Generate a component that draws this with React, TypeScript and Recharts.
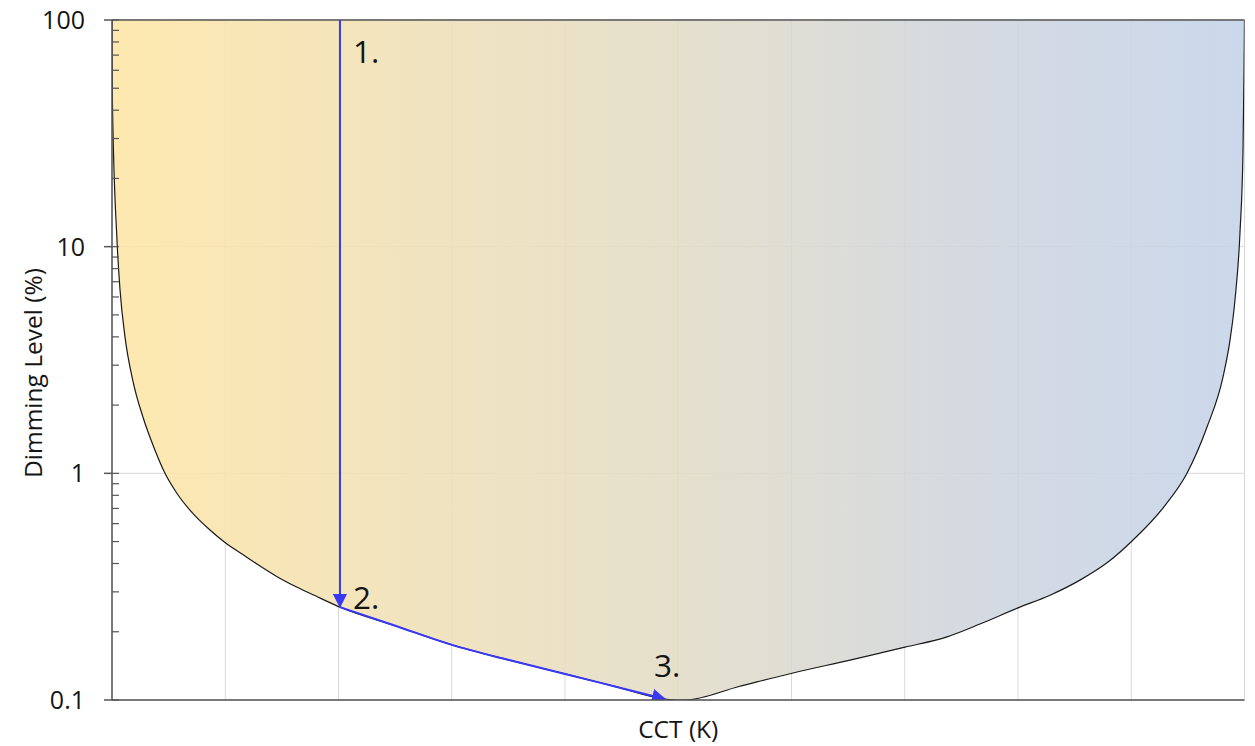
import React from 'react';
import {
  ComposedChart,
  Area,
  Line,
  XAxis,
  YAxis,
  CartesianGrid,
  ReferenceLine,
  ReferenceDot,
  Label,
} from 'recharts';

// ---- data ----
const cctPos = [
  0, 0.0035, 0.044, 0.071, 0.115, 0.183, 0.276, 0.365, 0.468, 0.571, 0.718, 0.865, 0.998, 1.159, 1.307,
  1.454, 1.631, 1.808, 2.013, 2.508, 3.002, 3.506, 4.009, 4.44, 4.883, 5.0, 5.06, 5.536, 6.013, 6.517,
  6.781, 7.002, 7.373, 7.664, 8.0, 8.283, 8.547, 8.795, 9.007, 9.28, 9.492, 9.669, 9.81, 9.872, 9.916,
  9.96, 9.987, 9.996, 10,
];
const dimLevel = [
  100, 44.4, 10.7, 6.44, 3.99, 2.58, 1.754, 1.32, 1.0, 0.819, 0.662, 0.562, 0.495, 0.437, 0.39,
  0.351, 0.315, 0.286, 0.257, 0.212, 0.175, 0.15, 0.13, 0.1148, 0.101, 0.1, 0.1, 0.1147, 0.1316, 0.15,
  0.161, 0.171, 0.19, 0.2163, 0.255, 0.29, 0.338, 0.406, 0.503, 0.703, 1.0, 1.6, 2.66, 3.87, 5.82,
  11.5, 26.7, 62, 100,
];

const step1X = [2.013, 2.013];
const step1Level = [100, 0.257];

const step2X = [2.013, 2.508, 3.002, 3.506, 4.009, 4.44, 4.883];
const step2Level = [0.257, 0.212, 0.175, 0.15, 0.13, 0.1148, 0.101];

const yTicks = [0.1, 1, 10, 100];
const yMinorTicks = [
  0.1, 0.2, 0.3, 0.4, 0.5, 0.6, 0.7, 0.8, 0.9,
  1, 2, 3, 4, 5, 6, 7, 8, 9,
  10, 20, 30, 40, 50, 60, 70, 80, 90, 100,
];
const xGridTicks = [0, 1, 2, 3, 4, 5, 6, 7, 8, 9, 10];

const annotationText = ['1.', '2.', '3.'];
const annotationX = [2.013, 2.013, 4.883];
const annotationLevel = [100, 0.257, 0.101];

const xLabel = 'CCT (K)';
const yLabel = 'Dimming Level (%)';

// ---- tables built from the arrays ----
const curveData = cctPos.map((x, i) => ({ x, level: dimLevel[i] }));
const step1Data = step1X.map((x, i) => ({ x, level: step1Level[i] }));
const step2Data = step2X.map((x, i) => ({ x, level: step2Level[i] }));

const FONT = '"Open Sans", "Noto Sans", sans-serif';
const TEXT = '#151515';
const AXIS = '#555555';
const BLUE = '#3838f5';

const annOffsets = [
  { dx: 13, dy: 43 },
  { dx: 13, dy: 2 },
  { dx: -11, dy: -22 },
];

const makeAnnotation = (i: number) => (props: any) => {
  const vb = props.viewBox || {};
  const x = (vb.x ?? 0) + (vb.width ?? 0) / 2 + annOffsets[i].dx;
  const y = (vb.y ?? 0) + (vb.height ?? 0) / 2 + annOffsets[i].dy;
  return (
    <text x={x} y={y} fill={TEXT} fontSize={31.5} fontFamily={FONT}>
      {annotationText[i]}
    </text>
  );
};

const renderYLabel = (props: any) => {
  const vb = props.viewBox || {};
  const cx = vb.x;
  const cy = vb.y + vb.height / 2 + 13;
  return (
    <text
      x={cx}
      y={cy}
      transform={`rotate(-90 ${cx} ${cy})`}
      textAnchor="middle"
      dominantBaseline="central"
      fill={TEXT}
      fontSize={24.5}
      fontFamily={FONT}
    >
      {yLabel}
    </text>
  );
};

const renderXLabel = (props: any) => {
  const vb = props.viewBox || {};
  return (
    <text
      x={vb.x + vb.width / 2}
      y={vb.y + 38}
      textAnchor="middle"
      fill={TEXT}
      fontSize={24.5}
      fontFamily={FONT}
    >
      {xLabel}
    </text>
  );
};

const emptyTick = () => <g />;

export default function App() {
  return (
    <div style={{ position: 'absolute', left: 0, top: 0, width: 1255, height: 746, background: '#fff' }}>
      <ComposedChart width={1255} height={746} margin={{ top: 20, right: 10.5, bottom: 0, left: 32 }}>
        <defs>
          <linearGradient id="cctGradient" x1="0" y1="0" x2="1" y2="0">
            <stop offset="0%" stopColor="#FDE5A4" stopOpacity={0.88} />
            <stop offset="25%" stopColor="#F0E0B5" stopOpacity={0.88} />
            <stop offset="50%" stopColor="#E2DCC6" stopOpacity={0.88} />
            <stop offset="75%" stopColor="#D0D5DD" stopOpacity={0.88} />
            <stop offset="100%" stopColor="#C4D3E9" stopOpacity={0.88} />
          </linearGradient>
          <marker
            id="arrowHead"
            viewBox="0 0 14 14"
            refX="13"
            refY="7"
            markerWidth="14"
            markerHeight="14"
            markerUnits="userSpaceOnUse"
            orient="auto"
          >
            <path d="M0,0 L14,7 L0,14 z" fill={BLUE} />
          </marker>
        </defs>
        <CartesianGrid yAxisId="left" stroke="#d9d9d9" strokeWidth={1} />
        <XAxis
          dataKey="x"
          type="number"
          domain={[0, 10]}
          ticks={xGridTicks}
          interval={0}
          allowDataOverflow
          tick={emptyTick}
          tickLine={false}
          height={46}
          axisLine={{ stroke: AXIS, strokeWidth: 1.5 }}
        >
          <Label content={renderXLabel} />
        </XAxis>
        <YAxis
          yAxisId="left"
          type="number"
          scale="log"
          domain={[0.1, 100]}
          allowDataOverflow
          ticks={yTicks}
          interval={0}
          width={80}
          tickSize={8}
          tickMargin={19}
          axisLine={{ stroke: AXIS, strokeWidth: 1.5 }}
          tickLine={{ stroke: AXIS, strokeWidth: 1.5 }}
          tick={{ fill: TEXT, fontSize: 25, fontFamily: FONT }}
        >
          <Label content={renderYLabel} />
        </YAxis>
        <YAxis
          yAxisId="minor"
          orientation="left"
          mirror
          type="number"
          scale="log"
          domain={[0.1, 100]}
          allowDataOverflow
          ticks={yMinorTicks}
          interval={0}
          width={10}
          tickSize={7}
          axisLine={false}
          tickLine={{ stroke: AXIS, strokeWidth: 1.2 }}
          tick={emptyTick}
        />
        <Area
          yAxisId="left"
          data={curveData}
          dataKey="level"
          type="monotone"
          baseValue={100}
          fill="url(#cctGradient)"
          fillOpacity={1}
          stroke="#1a1a1a"
          strokeWidth={1.2}
          dot={false}
          activeDot={false}
          isAnimationActive={false}
        />
        <ReferenceLine yAxisId="left" y={100} stroke={AXIS} strokeWidth={1.5} />
        <Line
          yAxisId="left"
          data={step1Data}
          dataKey="level"
          type="linear"
          stroke={BLUE}
          strokeWidth={2}
          dot={false}
          activeDot={false}
          markerEnd="url(#arrowHead)"
          isAnimationActive={false}
        />
        <Line
          yAxisId="left"
          data={step2Data}
          dataKey="level"
          type="monotone"
          stroke={BLUE}
          strokeWidth={2}
          dot={false}
          activeDot={false}
          markerEnd="url(#arrowHead)"
          isAnimationActive={false}
        />
        {annotationText.map((t, i) => (
          <ReferenceDot
            key={t}
            yAxisId="left"
            x={annotationX[i]}
            y={annotationLevel[i]}
            r={0}
            fill="none"
            stroke="none"
            ifOverflow="visible"
            label={makeAnnotation(i)}
          />
        ))}
      </ComposedChart>
    </div>
  );
}
